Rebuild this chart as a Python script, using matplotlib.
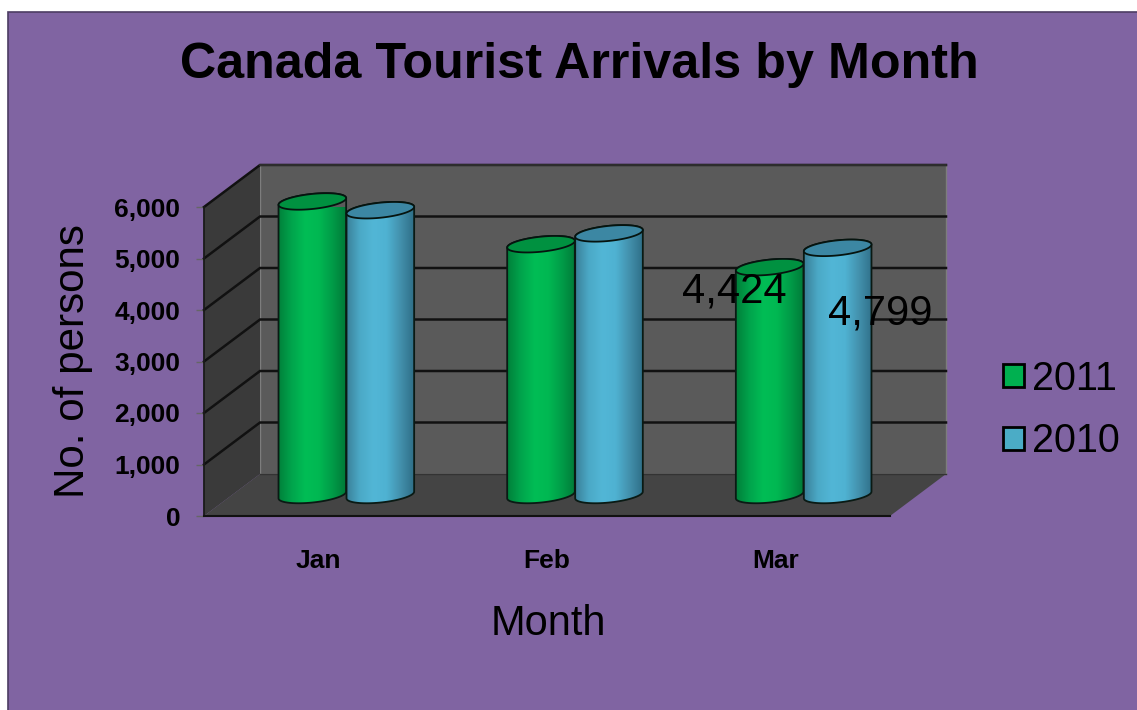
import numpy as np
import matplotlib.pyplot as plt
from matplotlib.colors import LinearSegmentedColormap
from matplotlib.patches import Patch, Polygon, Rectangle, PathPatch
from matplotlib.path import Path

plt.rcParams['font.family'] = ['Liberation Sans', 'DejaVu Sans']

months = ['Jan', 'Feb', 'Mar']
series_names = ['2011', '2010']
values_2011 = [5700, 4870, 4424]
values_2010 = [5530, 5080, 4799]
y_ticks = [0, 1000, 2000, 3000, 4000, 5000, 6000]
shown_labels = {(2, 0): '4,424', (2, 1): '4,799'}

W, H = 1137, 710
purple = '#8064a2'

# Scale of the front plane, pixels per unit
px_x = 686 / 3
px_y = 309 / 6000
depth_x = 56 / px_x
depth_y = 42 / px_y

fig = plt.figure(figsize=(W / 100, H / 100), dpi=100, facecolor='white')
fig.add_artist(Rectangle((7.5 / W, -0.01), 1.01, 1 - 11.5 / H + 0.01, transform=fig.transFigure,
                         facecolor=purple, edgecolor='#4d3d63', linewidth=1.2, zorder=-1))

ax = fig.add_axes([204 / W, (H - 516) / H, 686 / W, 309 / H])
ax.patch.set_alpha(0)
ax.set_xlim(-0.5, 2.5)
ax.set_ylim(0, 6000)
for spine in ax.spines.values():
    spine.set_visible(False)

# Walls and floor
x0, x1 = ax.get_xlim()
top = 6000
ax.add_patch(Polygon([(x0 + depth_x, depth_y), (x1 + depth_x, depth_y), (x1 + depth_x, top + depth_y), (x0 + depth_x, top + depth_y)],
                     facecolor='#5a5a5a', edgecolor='#7d7d7d', linewidth=1, clip_on=False, zorder=1))
ax.add_patch(Polygon([(x0, 0), (x0 + depth_x, depth_y), (x0 + depth_x, top + depth_y), (x0, top)],
                     facecolor='#3a3a3a', edgecolor='none', clip_on=False, zorder=1))
ax.add_patch(Polygon([(x0, 0), (x1, 0), (x1 + depth_x, depth_y), (x0 + depth_x, depth_y)],
                     facecolor='#444444', edgecolor='none', clip_on=False, zorder=1))
for t in y_ticks[1:]:
    ax.plot([x0, x0 + depth_x, x1 + depth_x], [t, t + depth_y, t + depth_y], color='#111111', linewidth=1.8,
            clip_on=False, zorder=2, solid_joinstyle='miter')
ax.plot([x0 + depth_x, x1 + depth_x], [top + depth_y, top + depth_y], color='#333333', linewidth=1.2, clip_on=False, zorder=2)
ax.plot([x0 + depth_x, x1 + depth_x], [depth_y, depth_y], color='#333333', linewidth=1, clip_on=False, zorder=2)
ax.plot([x0, x0], [0, top], color='#1a1a1a', linewidth=1.3, clip_on=False, zorder=2)
ax.plot([x0, x1], [0, 0], color='#111111', linewidth=1.5, clip_on=False, zorder=2)

green_cmap = LinearSegmentedColormap.from_list('g', ['#00803a', '#00a44c', '#00bd55', '#00b852', '#009c48', '#007a38'])
blue_cmap = LinearSegmentedColormap.from_list('b', ['#3a7f98', '#4ba9c6', '#52b6d6', '#4fb2d2', '#4391ad', '#2f6f88'])
green_top = '#009140'
blue_top = '#3c87a3'

bar_w = 68 / px_x
semi_a = 34
semi_b = 7.5
tilt = np.radians(6)


def ellipse_xy(cx, cy, t):
    # offsets are worked out in pixels so the tilt looks right, then go back to data units
    ex = semi_a * np.cos(t) * np.cos(tilt) - semi_b * np.sin(t) * np.sin(tilt)
    ey = semi_a * np.cos(t) * np.sin(tilt) + semi_b * np.sin(t) * np.cos(tilt)
    return cx + ex / px_x, cy + ey / px_y


def cylinder(cx, value, cmap, top_color, z):
    base = depth_y / 2
    px = cx + depth_x / 2
    t_low = np.linspace(np.pi, 2 * np.pi, 40)
    bx, by = ellipse_xy(px, base, t_low)
    t_up = np.linspace(0, np.pi, 40)
    tx, ty = ellipse_xy(px, base + value, t_up)
    verts = np.column_stack([np.r_[bx, tx], np.r_[by, ty]])
    codes = [Path.MOVETO] + [Path.LINETO] * (len(verts) - 1) + [Path.CLOSEPOLY]
    verts = np.vstack([verts, verts[0]])
    body = PathPatch(Path(verts, codes), facecolor='none', edgecolor='#0a1a14', linewidth=1.3, zorder=z + 0.2, clip_on=False)
    ax.add_patch(body)
    img = ax.imshow(np.linspace(0, 1, 128).reshape(1, -1), cmap=cmap, aspect='auto', zorder=z, interpolation='bilinear',
                    extent=[px - bar_w / 2, px + bar_w / 2, 0, base + value + 500], clip_on=True)
    img.set_clip_path(Path(verts, codes), ax.transData)
    t = np.linspace(0, 2 * np.pi, 80)
    ex, ey = ellipse_xy(px, base + value, t)
    ax.add_patch(Polygon(np.column_stack([ex, ey]), facecolor=top_color, edgecolor='#06140f', linewidth=1.3,
                         zorder=z + 0.3, clip_on=False))


offset = 34 / px_x
for i in range(len(months)):
    cylinder(i - offset, values_2011[i], green_cmap, green_top, 3 + i)
    cylinder(i + offset, values_2010[i], blue_cmap, blue_top, 3.5 + i)

ax.set_xlim(x0, x1)
ax.set_ylim(0, 6000)

# Data labels, only the March ones are shown
for (i, s), label in shown_labels.items():
    v = [values_2011, values_2010][s][i]
    sign = -1 if s == 0 else 1
    ax.annotate(label, (i + sign * offset + depth_x / 2, v + depth_y / 2), xytext=(-25.5 if s == 0 else 30.5, -17.5 if s == 0 else -47),
                textcoords='offset points', ha='center', va='center', fontsize=30, color='black', zorder=10)

ax.set_yticks(y_ticks)
ax.set_yticklabels([f'{t:,}' for t in y_ticks], fontsize=19, fontweight='bold')
ax.set_xticks(range(len(months)))
ax.set_xticklabels(months, fontsize=19, fontweight='bold')
ax.tick_params(axis='y', length=6, width=1, pad=11, color='#666666')
ax.tick_params(axis='x', length=0, pad=24)

fig.text(579 / W, 1 - 65 / H, 'Canada Tourist Arrivals by Month', fontsize=36.2, fontweight='bold', ha='center', va='center')
fig.text(548 / W, 1 - 624 / H, 'Month', fontsize=30, ha='center', va='center')
fig.text(73 / W, 1 - 361 / H, 'No. of persons', fontsize=30.3, rotation=90, ha='center', va='center')

handles = [Patch(facecolor='#00b050', edgecolor='black', linewidth=2),
           Patch(facecolor='#4bacc6', edgecolor='black', linewidth=2)]
fig.legend(handles, series_names, loc='center left', bbox_to_anchor=(967 / W, 1 - 410 / H), frameon=False, fontsize=28.5,
           handlelength=0.55, handleheight=0.55, handletextpad=0.18, labelspacing=0.63)

fig.savefig('out.png', dpi=100)
